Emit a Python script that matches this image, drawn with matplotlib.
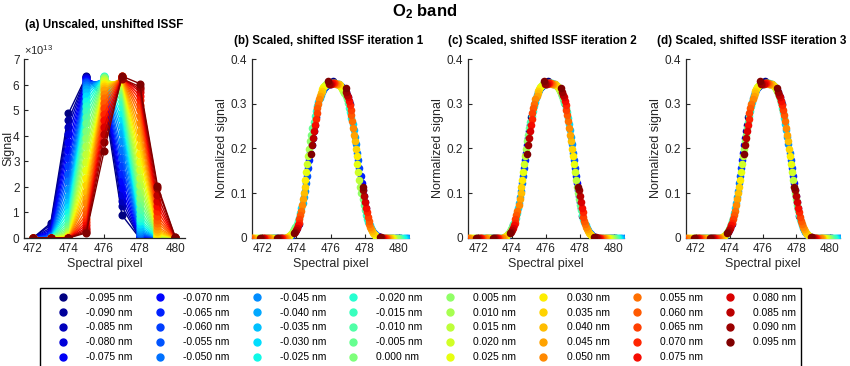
import numpy as np
import matplotlib
matplotlib.use('Agg')
import matplotlib.pyplot as plt
from matplotlib.lines import Line2D
from matplotlib.ticker import FuncFormatter, ScalarFormatter

plt.rcParams['font.family'] = ['Liberation Sans', 'DejaVu Sans']
plt.rcParams['mathtext.fontset'] = 'custom'
plt.rcParams['mathtext.rm'] = 'Liberation Sans'
plt.rcParams['mathtext.bf'] = 'Liberation Sans:bold'

# spectral pixels
pixels = [472, 473, 474, 475, 476, 477, 478, 479, 480]

# wavelength shifts (nm)
shifts_nm = [-0.095, -0.090, -0.085, -0.080, -0.075, -0.070, -0.065, -0.060,
             -0.055, -0.050, -0.045, -0.040, -0.035, -0.030, -0.025, -0.020,
             -0.015, -0.010, -0.005, 0.000, 0.005, 0.010, 0.015, 0.020,
             0.025, 0.030, 0.035, 0.040, 0.045, 0.050, 0.055, 0.060,
             0.065, 0.070, 0.075, 0.080, 0.085, 0.090, 0.095]

# unscaled signal at each pixel, units of 1e13
signal = [
    [0, 0.58, 4.87, 6.33, 5.40, 0.90, 0, 0, 0],
    [0, 0.51, 4.60, 6.30, 5.57, 1.24, 0, 0, 0],
    [0, 0.40, 4.35, 6.28, 5.72, 1.45, 0, 0, 0],
    [0, 0.32, 4.06, 6.26, 5.82, 1.69, 0.01, 0, 0],
    [0, 0.25, 3.76, 6.23, 5.92, 1.94, 0.03, 0, 0],
    [0, 0.20, 3.45, 6.19, 6.00, 2.21, 0.04, 0, 0],
    [0, 0.15, 3.14, 6.15, 6.06, 2.51, 0.07, 0, 0],
    [0, 0.10, 2.82, 6.11, 6.11, 2.82, 0.10, 0, 0],
    [0, 0.07, 2.51, 6.06, 6.15, 3.14, 0.15, 0, 0],
    [0, 0.04, 2.21, 6.00, 6.19, 3.45, 0.20, 0, 0],
    [0, 0.02, 1.90, 5.90, 6.23, 3.81, 0.26, 0, 0],
    [0, 0.01, 1.65, 5.81, 6.26, 4.11, 0.34, 0, 0],
    [0, 0, 1.42, 5.70, 6.28, 4.39, 0.42, 0, 0],
    [0, 0, 1.21, 5.55, 6.30, 4.64, 0.53, 0, 0],
    [0, 0, 1.01, 5.37, 6.31, 4.88, 0.65, 0, 0],
    [0, 0, 0.83, 5.18, 6.32, 5.11, 0.78, 0, 0],
    [0, 0, 0.69, 4.96, 6.31, 5.31, 0.95, 0, 0],
    [0, 0, 0.56, 4.73, 6.31, 5.50, 1.13, 0, 0],
    [0, 0, 0.45, 4.48, 6.29, 5.65, 1.35, 0, 0],
    [0, 0, 0.36, 4.20, 6.27, 5.77, 1.57, 0.01, 0],
    [0, 0, 0.28, 3.91, 6.24, 5.87, 1.81, 0.02, 0],
    [0, 0, 0.22, 3.60, 6.21, 5.96, 2.08, 0.03, 0],
    [0, 0, 0.17, 3.30, 6.17, 6.03, 2.35, 0.05, 0],
    [0, 0, 0.12, 2.98, 6.13, 6.08, 2.66, 0.09, 0],
    [0, 0, 0.09, 2.66, 6.08, 6.13, 2.98, 0.12, 0],
    [0, 0, 0.05, 2.35, 6.03, 6.17, 3.30, 0.17, 0],
    [0, 0, 0.03, 2.08, 5.96, 6.21, 3.60, 0.22, 0],
    [0, 0, 0.02, 1.81, 5.87, 6.24, 3.91, 0.28, 0],
    [0, 0, 0.01, 1.57, 5.77, 6.27, 4.20, 0.36, 0],
    [0, 0, 0, 1.35, 5.65, 6.29, 4.48, 0.45, 0],
    [0, 0, 0, 1.10, 5.47, 6.31, 4.77, 0.58, 0],
    [0, 0, 0, 0.92, 5.28, 6.32, 5.00, 0.71, 0],
    [0, 0, 0, 0.76, 5.07, 6.32, 5.21, 0.86, 0],
    [0, 0, 0, 0.62, 4.85, 6.31, 5.41, 1.04, 0],
    [0, 0, 0, 0.51, 4.60, 6.30, 5.57, 1.24, 0],
    [0, 0, 0, 0.40, 4.35, 6.28, 5.72, 1.45, 0],
    [0, 0, 0, 0.32, 4.06, 6.26, 5.82, 1.69, 0.01],
    [0, 0, 0, 0.25, 3.76, 6.23, 5.92, 1.94, 0.03],
    [0, 0, 0, 0.20, 3.40, 6.33, 6.04, 2.05, 0.04],
]

# estimated pixel shift applied in each iteration
shift_it1 = [-1.15, -1.08, -1.02, -0.95, -0.89, -0.82, -0.76, -0.69, -0.63, -0.56,
             -0.49, -0.42, -0.36, -0.29, -0.22, -0.15, -0.08, -0.01, 0.06, 0.12,
             0.19, 0.25, 0.31, 0.36, 0.42, 0.47, 0.52, 0.57, 0.62, 0.66,
             0.72, 0.77, 0.82, 0.87, 0.92, 0.97, 1.02, 1.07, 1.12]
shift_it2 = [-1.13, -1.07, -1.01, -0.95, -0.89, -0.83, -0.77, -0.71, -0.65, -0.58,
             -0.51, -0.45, -0.39, -0.33, -0.27, -0.21, -0.15, -0.08, -0.02, 0.04,
             0.10, 0.16, 0.22, 0.28, 0.34, 0.40, 0.46, 0.50, 0.56, 0.62,
             0.69, 0.75, 0.81, 0.84, 0.90, 0.96, 1.02, 1.08, 1.14]
shift_it3 = [-1.13, -1.07, -1.01, -0.95, -0.89, -0.83, -0.77, -0.71, -0.65, -0.59,
             -0.52, -0.46, -0.40, -0.34, -0.28, -0.22, -0.16, -0.09, -0.03, 0.03,
             0.09, 0.15, 0.21, 0.27, 0.33, 0.39, 0.45, 0.50, 0.56, 0.62,
             0.69, 0.75, 0.81, 0.85, 0.91, 0.97, 1.03, 1.09, 1.15]

n = len(shifts_nm)
cmap = plt.get_cmap('jet')
colors = [cmap(i / (n - 1)) for i in range(n)]
axcol = '#262626'

fig = plt.figure(figsize=(8.5, 3.66), dpi=100)
W, H = 850, 366

def make_ax(left, width, xlim):
    ax = fig.add_axes([left / W, 1 - 238 / H, width / W, 179 / H])
    ax.spines['top'].set_visible(False)
    ax.spines['right'].set_visible(False)
    for s in ['left', 'bottom']:
        ax.spines[s].set_color(axcol)
        ax.spines[s].set_linewidth(0.9)
    ax.tick_params(direction='in', length=3, width=0.8, labelsize=8.5,
                   colors=axcol, pad=3.5)
    ax.set_xlim(*xlim)
    ax.set_xticks([472, 474, 476, 478, 480])
    ax.set_xlabel('Spectral pixel', fontsize=9, color=axcol, labelpad=2.5)
    return ax

def put_title(ax, text, left, width, center):
    t = ax.set_title(text, fontsize=8.4, fontweight='bold', pad=11)
    t.set_x((center - left) / width)

# (a) unscaled
ax = make_ax(24, 161, (471.5, 480.55))
for k in range(n):
    ax.plot(pixels, np.array(signal[k]) * 1e13, '-o', color=colors[k],
            mfc=colors[k], mec=colors[k], ms=4.8, lw=1.0)
ax.set_ylim(0, 7e13)
ax.set_yticks(np.arange(0, 8) * 1e13)
fmt = ScalarFormatter(useMathText=True)
ax.yaxis.set_major_formatter(fmt)
ax.yaxis.get_offset_text().set_fontsize(8)
ax.tick_params(axis='y', pad=2.5)
ax.set_ylabel('Signal', fontsize=9, color=axcol)
ax.yaxis.set_label_coords(-10 / 161, 0.5)
put_title(ax, '(a) Unscaled, unshifted ISSF', 24, 161, 104)

# (b)-(d) scaled and shifted
panels = [(252, 157, 329, shift_it1, '(b) Scaled, shifted ISSF iteration 1'),
          (468, 156, 542, shift_it2, '(c) Scaled, shifted ISSF iteration 2'),
          (686, 154, 752, shift_it3, '(d) Scaled, shifted ISSF iteration 3')]
for left, width, tcen, shifts, title in panels:
    ax = make_ax(left, width, (471.4, 480.6))
    for k in range(n):
        vals = np.array(signal[k])
        ax.scatter(np.array(pixels) - shifts[k], vals / vals.sum(), s=30,
                   color=colors[k], linewidths=0, zorder=3)
    ax.set_ylim(0, 0.4)
    ax.set_yticks([0, 0.1, 0.2, 0.3, 0.4])
    ax.yaxis.set_major_formatter(FuncFormatter(lambda v, p: '%g' % round(v, 2)))
    ax.set_ylabel('Normalized signal', fontsize=9, color=axcol, labelpad=2)
    put_title(ax, title, left, width, tcen)

fig.text(0.5, 1 - 12 / H, r'$\mathbf{O_2}$ band', ha='center', va='center',
         fontsize=12, fontweight='bold')

handles = [Line2D([], [], ls='none', marker='o', color=c, mec=c, ms=5) for c in colors]
labels = ['%.3f nm' % s for s in shifts_nm]
leg = fig.legend(handles, labels, ncol=8, loc='upper left',
                 bbox_to_anchor=(40 / W, 1 - 288 / H), fontsize=7.4,
                 frameon=True, fancybox=False, edgecolor='black', framealpha=1,
                 handlelength=3.6, handletextpad=0.45, columnspacing=0.85,
                 labelspacing=0.48, borderpad=0.45, borderaxespad=0)
leg.get_frame().set_linewidth(1.0)

fig.savefig('out.png', dpi=100)
